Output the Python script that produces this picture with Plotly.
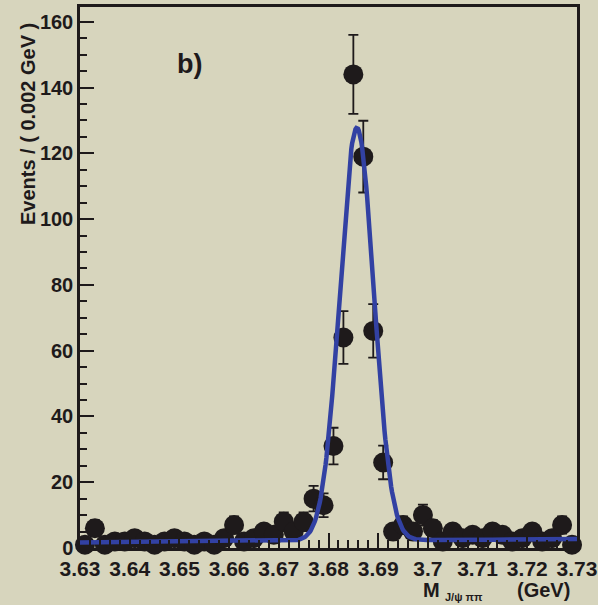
import numpy as np
import plotly.graph_objects as go

# ---- data ----
bin_centers = [round(3.631 + 0.002 * i, 3) for i in range(50)]
counts = [1, 6, 1, 2, 2, 3, 2, 1, 2, 3,
          2, 1, 2, 1, 3, 7, 2, 3, 5, 4,
          8, 5, 8, 15, 13, 31, 64, 144, 119, 66,
          26, 5, 7, 5, 10, 6, 2, 5, 3, 4,
          3, 5, 4, 2, 3, 5, 2, 3, 7, 1]
errors = [float(np.sqrt(c)) for c in counts]

# fit model parameters (Gaussian signal + linear background)
fit_mean = 3.6857
fit_sigma = 0.00342
fit_amp = 125.5
bkg_left = 1.7   # background at 3.63
bkg_right = 2.7  # background at 3.73

x_ticks = [3.63, 3.64, 3.65, 3.66, 3.67, 3.68, 3.69, 3.70, 3.71, 3.72, 3.73]
x_tick_labels = ["3.63", "3.64", "3.65", "3.66", "3.67", "3.68", "3.69", "3.7", "3.71", "3.72", "3.73"]
y_ticks = [0, 20, 40, 60, 80, 100, 120, 140, 160]

BG = "#d7d5bd"
INK = "#1e1a1b"
FONT = "Liberation Sans"

xc = np.linspace(3.63, 3.73, 600)
yc = fit_amp * np.exp(-0.5 * ((xc - fit_mean) / fit_sigma) ** 2) + \
    bkg_left + (bkg_right - bkg_left) * (xc - 3.63) / 0.1

fig = go.Figure()
fig.add_trace(go.Scatter(
    x=bin_centers, y=counts, mode="markers",
    marker=dict(size=20, color=INK, line=dict(width=0)),
    error_y=dict(type="data", array=errors, visible=True,
                 thickness=1.8, width=5, color=INK),
    cliponaxis=False, showlegend=False,
))
fig.add_trace(go.Scatter(
    x=xc, y=yc, mode="lines",
    line=dict(color="#3241a3", width=4.5),
    showlegend=False,
))

fig.update_layout(
    width=598, height=605,
    margin=dict(l=80, r=21, t=7, b=57),
    paper_bgcolor=BG, plot_bgcolor=BG,
    font=dict(family=FONT, color=INK),
    xaxis=dict(
        range=[3.63, 3.73], showgrid=False, zeroline=False, automargin=False,
        showline=True, linecolor=INK, linewidth=2.5, mirror=True,
        ticks="inside", ticklen=15, tickwidth=2, tickcolor=INK,
        tickvals=x_ticks, ticktext=x_tick_labels,
        tickfont=dict(family=FONT, size=21, color=INK, weight="bold"),
        ticklabelstandoff=0, ticklabeloverflow="allow",
        minor=dict(ticks="inside", ticklen=8, tickwidth=2, tickcolor=INK, dtick=0.002, showgrid=False),
    ),
    yaxis=dict(
        range=[0, 164.5], showgrid=False, zeroline=False, automargin=False,
        showline=True, linecolor=INK, linewidth=2.5, mirror=True,
        ticks="inside", ticklen=14, tickwidth=2, tickcolor=INK,
        tickvals=y_ticks,
        tickfont=dict(family=FONT, size=20, color=INK, weight="bold"),
        ticklabelstandoff=0,
        minor=dict(ticks="inside", ticklen=7, tickwidth=2, tickcolor=INK, dtick=5, showgrid=False),
    ),
    annotations=[
        dict(text="Events / ( 0.002 GeV )", xref="paper", yref="paper",
             x=-0.1046, y=0.7837, xanchor="center", yanchor="middle",
             textangle=-90, showarrow=False,
             font=dict(family=FONT, size=20, color=INK, weight="bold")),
        dict(text="b)", xref="paper", yref="paper", x=0.2213, y=0.8946,
             xanchor="center", yanchor="middle", showarrow=False,
             font=dict(family=FONT, size=27, color=INK, weight="bold")),
        dict(text="M", xref="paper", yref="paper", x=0.708, y=-0.077,
             xanchor="center", yanchor="middle", showarrow=False,
             font=dict(family=FONT, size=20, color=INK, weight="bold")),
        dict(text="J/ψ ππ", xref="paper", yref="paper", x=0.7304, y=-0.0905,
             xanchor="left", yanchor="middle", showarrow=False,
             font=dict(family=FONT, size=11, color=INK, weight="bold")),
        dict(text="(GeV)", xref="paper", yref="paper", x=0.9336, y=-0.077,
             xanchor="center", yanchor="middle", showarrow=False,
             font=dict(family=FONT, size=20, color=INK, weight="bold")),
    ],
)

fig.write_html("out.html")
